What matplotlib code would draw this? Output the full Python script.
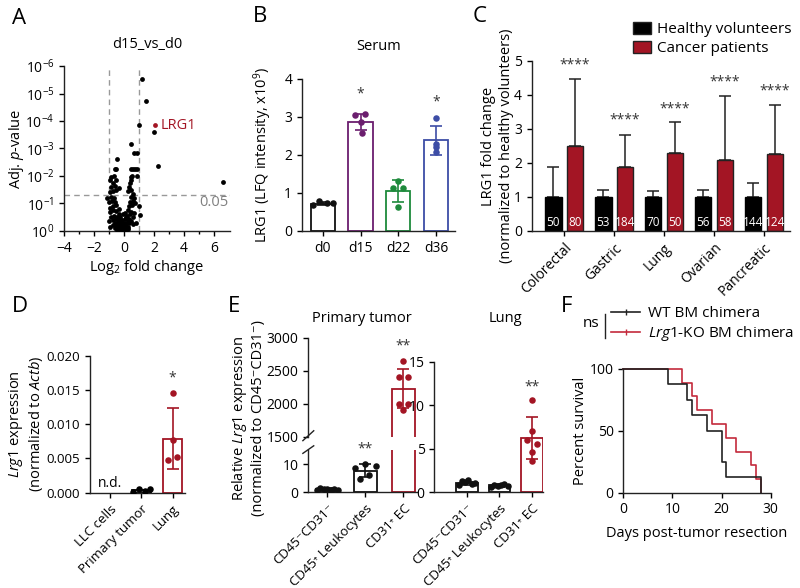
import matplotlib
matplotlib.use('Agg')
import matplotlib.pyplot as plt
import numpy as np
from matplotlib.lines import Line2D
from matplotlib.patches import Patch

plt.rcParams['font.family'] = ['Open Sans', 'DejaVu Sans']
plt.rcParams['mathtext.fontset'] = 'custom'
plt.rcParams['mathtext.rm'] = 'Open Sans'
plt.rcParams['mathtext.it'] = 'Open Sans:italic'
plt.rcParams['mathtext.bf'] = 'Open Sans:bold'
plt.rcParams['font.size'] = 10
plt.rcParams['axes.linewidth'] = 1.0
plt.rcParams['xtick.major.size'] = 3.5
plt.rcParams['ytick.major.size'] = 3.5
plt.rcParams['xtick.major.width'] = 1.0
plt.rcParams['ytick.major.width'] = 1.0
plt.rcParams['xtick.labelsize'] = 10
plt.rcParams['ytick.labelsize'] = 10
plt.rcParams['axes.edgecolor'] = '#222222'

# ---------------- DATA ----------------
# Panel A: volcano (log2 fold change, -log10 adj p)
volcano_x = [1.2, 1.45, 1.0, 2.0, 2.27, 6.6, 1.05, -1.15, 1.03,
             -0.45, -0.35, -0.25, -0.15, -0.05, 0.05, 0.15, 0.25, -0.3, -0.2, -0.1, 0.0, 0.1, 0.2, 0.3,
             -0.4, -0.5, -0.3, -0.15, 0.05, 0.15, 0.35, -0.6, -0.4, -0.25, -0.05, 0.25, 0.45,
             -0.7, -0.55, -0.35, -0.15, 0.1, 0.35,
             -0.85, -0.65, -0.45, -0.3, 0.2, 0.4, 0.6, -0.9, -0.7, -0.5, -0.35, 0.3, 0.5, 0.7,
             -0.95, -0.75, -0.55, 0.35, 0.55, -1.0, -0.8, -0.6, 0.4, 0.6, 0.75,
             -0.85, -0.65, 0.45, 0.65, -1.0, -0.95, 0.8, 0.6, -0.75, -0.6,
             -0.9, -0.7, -0.5, 0.3, 0.5, -0.85, -0.6, 0.35, 0.4, -0.75, -0.55, 0.45, 0.5,
             -0.85, -0.65, 0.9, -0.6, -0.5, 0.45, 0.6, 0.75, 0.9, -0.45, 0.65, 0.85, 0.5,
             0.55, -0.35, 0.6, -0.95, -0.2, 0.0, -0.1, 0.1, -0.25, 0.15, -0.05, 0.05]
volcano_y = [5.53, 4.73, 3.85, 3.6, 2.36, 1.78, 0.58, 1.19, 0.92,
             0.05, 0.02, 0.01, 0.0, 0.01, 0.02, 0.04, 0.06, 0.1, 0.08, 0.06, 0.07, 0.1, 0.12, 0.15,
             0.15, 0.2, 0.22, 0.18, 0.2, 0.25, 0.28, 0.3, 0.32, 0.3, 0.3, 0.35, 0.38,
             0.4, 0.42, 0.4, 0.4, 0.42, 0.45,
             0.5, 0.55, 0.52, 0.6, 0.55, 0.6, 0.5, 0.7, 0.75, 0.72, 0.8, 0.75, 0.7, 0.65,
             0.85, 0.9, 0.95, 0.9, 0.95, 1.05, 1.1, 1.05, 1.05, 1.1, 1.0,
             1.25, 1.2, 1.25, 1.2, 0.35, 0.15, 0.3, 0.25, 0.2, 0.1,
             1.4, 1.45, 1.5, 1.45, 1.5, 1.6, 1.65, 1.6, 1.75, 1.75, 1.85, 1.85, 1.95,
             1.95, 2.0, 2.0, 2.25, 2.25, 2.25, 2.25, 2.25, 2.25, 2.6, 2.85, 2.85, 3.15,
             2.0, 1.55, 1.35, 1.85, 0.25, 0.15, 0.3, 0.3, 0.5, 0.5, 0.6, 0.65]
lrg1_point = (2.07, 3.85)
p_cut = 1.3  # -log10(0.05)

# Panel B: serum LRG1
b_days = ['d0', 'd15', 'd22', 'd36']
b_mean = [0.72, 2.88, 1.04, 2.39]
b_sd = [0.04, 0.21, 0.29, 0.38]
b_points = [[0.68, 0.78, 0.73, 0.74],
            [3.05, 3.07, 2.86, 2.59],
            [1.32, 1.14, 1.12, 0.64],
            [2.97, 2.30, 2.20, 2.08]]
b_jitter = [[-0.26, -0.09, 0.10, 0.28],
            [-0.16, 0.12, 0.0, 0.03],
            [0.0, -0.15, 0.12, 0.0],
            [0.0, 0.0, 0.0, 0.0]]
b_sig = ['', '*', '', '*']
b_sig_y = [0, 3.6, 0, 3.4]

# Panel C: human cohorts
c_cancers = ['Colorectal', 'Gastric', 'Lung', 'Ovarian', 'Pancreatic']
c_healthy = [1.0, 1.0, 1.0, 1.0, 1.0]
c_healthy_err = [0.87, 0.2, 0.18, 0.22, 0.4]
c_cancer = [2.5, 1.87, 2.3, 2.1, 2.25]
c_cancer_err = [1.97, 0.96, 0.9, 1.87, 1.45]
c_n_healthy = ['50', '53', '70', '56', '144']
c_n_cancer = ['80', '184', '50', '58', '124']
c_sig_y = [4.88, 3.26, 3.58, 4.39, 4.13]

# Panel D: Lrg1 expression
d_groups = ['LLC cells', 'Primary tumor', 'Lung']
d_mean = [np.nan, 0.0004, 0.0079]
d_sd = [np.nan, 0.0, 0.0045]
d_pt_points = [0.00015, 0.0006, 0.00025, 0.00054]
d_pt_jitter = [-0.27, -0.08, 0.13, 0.27]
d_lung_points = [0.0145, 0.0077, 0.00526, 0.00477]
d_lung_jitter = [0.0, 0.0, 0.14, -0.14]

# Panel E
e_groups = ['CD45\u207bCD31\u207b', 'CD45\u207a Leukocytes', 'CD31\u207a EC']
e_pt_mean = [1.0, 7.6, 2230]
e_pt_sd = [0.3, 2.3, 300]
e_pt_points = [[0.6, 1.4, 1.2, 0.9, 0.7, 1.0, 0.8],
               [8.7, 10.0, 9.4, 6.0, 4.8],
               [2640, 2400, 2410, 2000, 2000, 1900]]
e_pt_jitter = [[-0.27, -0.18, -0.09, 0.0, 0.09, 0.18, 0.27],
               [-0.28, 0.0, 0.27, 0.1, -0.13],
               [0.0, -0.12, 0.13, -0.12, 0.13, 0.0]]
e_lung_mean = [1.0, 0.75, 6.2]
e_lung_sd = [0.2, 0.12, 2.45]
e_lung_points = [[0.75, 1.3, 1.1, 1.35, 0.95, 1.0],
                 [0.6, 0.75, 0.7, 0.8, 0.9, 0.65],
                 [10.6, 7.0, 6.0, 5.5, 4.6, 3.6]]
e_lung_jitter = [[-0.25, -0.15, -0.05, 0.05, 0.15, 0.25],
                 [-0.25, -0.15, -0.05, 0.05, 0.15, 0.25],
                 [0.0, 0.0, -0.15, 0.15, 0.0, 0.0]]

# Panel F: survival
wt_t = [0, 9, 13, 14, 17, 20, 21, 28]
wt_s = [100, 87.5, 75, 62.5, 50, 25, 12.5, 0]
ko_t = [0, 12, 14, 15, 18, 21, 23, 26, 27, 28]
ko_s = [100, 88.9, 77.8, 66.7, 55.6, 44.4, 33.3, 22.2, 11.1, 0]

# ---------------- STYLE ----------------
RED = '#A31524'
RED2 = '#C42A3C'
PURPLE = '#6B1E6E'
GREEN = '#1E8A3C'
BLUE = '#3D4DA6'
b_colors = ['#111111', PURPLE, GREEN, BLUE]
STAR = '#333333'

W, H = 800, 588
fig = plt.figure(figsize=(8, 5.88), dpi=100)


def ax_px(l, t, r, b):
    return fig.add_axes([l / W, 1 - b / H, (r - l) / W, (b - t) / H])


def clean(ax):
    ax.spines['top'].set_visible(False)
    ax.spines['right'].set_visible(False)


def panel_label(x, y, s):
    fig.text(x / W, 1 - y / H, s, fontsize=16, ha='left', va='center')


# ---------------- Panel A ----------------
axA = ax_px(64, 66, 230, 231)
clean(axA)
axA.scatter(volcano_x, volcano_y, s=12, color='black', linewidths=0, zorder=3)
axA.scatter([lrg1_point[0]], [lrg1_point[1]], s=12, color=RED, linewidths=0, zorder=4)
axA.axvline(-1, color='#999999', ls=(0, (4, 3)), lw=1)
axA.axvline(1, color='#999999', ls=(0, (4, 3)), lw=1)
axA.axhline(p_cut, color='#999999', ls=(0, (4, 3)), lw=1)
axA.text(lrg1_point[0] + 0.35, lrg1_point[1], 'LRG1', color=RED, fontsize=10.5, va='center')
axA.text(6.95, 1.05, '0.05', color='#808080', fontsize=10.5, ha='right', va='center')
axA.set_xlim(-4, 7.07)
axA.set_ylim(0, 6)
axA.set_xticks([-4, -2, 0, 2, 4, 6])
axA.set_xticks(np.arange(-4, 7, 1), minor=True)
axA.tick_params(axis='x', which='minor', length=2.5, width=1)
axA.set_yticks(range(0, 7))
axA.set_yticklabels(['10$^{0}$'] + ['10$^{-%d}$' % i for i in range(1, 7)])
axA.set_xlabel('Log$_{2}$ fold change', fontsize=10.5, labelpad=2)
axA.set_ylabel('Adj. $\\mathit{p}$-value', fontsize=10.5)
axA.yaxis.set_label_coords(-0.23, 0.5)
axA.set_title('d15_vs_d0', fontsize=10.5, pad=13)
panel_label(12, 18, 'A')

# ---------------- Panel B ----------------
axB = ax_px(302, 79, 455, 231)
clean(axB)
xb = np.arange(len(b_days))
for i in range(len(b_days)):
    axB.bar(xb[i], b_mean[i], width=0.64, facecolor='white', edgecolor=b_colors[i], linewidth=1.3, zorder=2)
    axB.errorbar(xb[i], b_mean[i], yerr=b_sd[i], color=b_colors[i], capsize=4, elinewidth=1.2,
                 capthick=1.2, zorder=3)
    axB.scatter(xb[i] + np.array(b_jitter[i]), b_points[i], s=22, color=b_colors[i], zorder=4, linewidths=0)
    if b_sig[i]:
        axB.text(xb[i], b_sig_y[i], b_sig[i], ha='center', va='center', fontsize=10, color=STAR)
axB.set_xlim(-0.55, 3.5)
axB.set_ylim(0, 4)
axB.set_yticks([0, 1, 2, 3, 4])
axB.set_xticks(xb)
axB.set_xticklabels(b_days)
axB.set_ylabel('LRG1 (LFQ intensity, x10$^{9}$)', fontsize=10.5)
axB.yaxis.set_label_coords(-0.18, 0.5)
axB.set_title('Serum', fontsize=10.5, pad=21)
panel_label(253, 17, 'B')

# ---------------- Panel C ----------------
axC = ax_px(531.7, 61, 790, 231)
clean(axC)
xc = np.arange(len(c_cancers))
off = 0.217
bw = 0.33
axC.bar(xc - off, c_healthy, width=bw, color='black', edgecolor='black', linewidth=1, zorder=2)
axC.bar(xc + off, c_cancer, width=bw, color=RED, edgecolor='#222222', linewidth=1, zorder=2)
axC.errorbar(xc - off, c_healthy, yerr=[np.zeros(5), c_healthy_err], fmt='none', ecolor='#222222',
             capsize=4, elinewidth=1.1, capthick=1.1, zorder=1)
axC.errorbar(xc + off, c_cancer, yerr=[np.zeros(5), c_cancer_err], fmt='none', ecolor='#222222',
             capsize=4, elinewidth=1.1, capthick=1.1, zorder=1)
for i in range(len(c_cancers)):
    axC.text(xc[i] - off, 0.25, c_n_healthy[i], color='white', fontsize=8.5, ha='center', va='center', zorder=5)
    axC.text(xc[i] + off, 0.25, c_n_cancer[i], color='white', fontsize=8.5, ha='center', va='center', zorder=5)
    axC.text(xc[i] + off, c_sig_y[i], '****', color=STAR, fontsize=10, ha='center', va='center')
axC.set_xlim(-0.65, 4.52)
axC.set_ylim(0, 5)
axC.set_yticks(range(6))
axC.set_xticks(xc)
axC.set_xticklabels(c_cancers, rotation=45, ha='right', rotation_mode='anchor')
axC.set_ylabel('LRG1 fold change\n(normalized to healthy volunteers)', fontsize=10.5, linespacing=1.2)
axC.yaxis.set_label_coords(-0.07, 0.5)
legC = axC.legend(handles=[Patch(facecolor='black', edgecolor='#222222', label='Healthy volunteers'),
                           Patch(facecolor=RED, edgecolor='#222222', label='Cancer patients')],
                  loc='upper left', bbox_to_anchor=(633 / W, 1 - 22 / H), bbox_transform=fig.transFigure,
                  frameon=False, fontsize=11, handlelength=1.2, handleheight=0.8, handletextpad=0.4,
                  labelspacing=0.25, borderaxespad=0, borderpad=0)
panel_label(473, 17, 'C')

# ---------------- Panel D ----------------
axD = ax_px(90, 355.7, 185, 492.7)
clean(axD)
xd = np.arange(len(d_groups))
axD.bar(xd[1], d_mean[1], width=0.63, facecolor='white', edgecolor='black', linewidth=1.3, zorder=2)
axD.bar(xd[2], d_mean[2], width=0.63, facecolor='white', edgecolor=RED, linewidth=1.3, zorder=2)
axD.errorbar(xd[2], d_mean[2], yerr=d_sd[2], color=RED, capsize=4, elinewidth=1.2, capthick=1.2, zorder=3)
axD.scatter(xd[1] + np.array(d_pt_jitter), d_pt_points, s=22, color='black', zorder=4, linewidths=0)
axD.scatter(xd[2] + np.array(d_lung_jitter), d_lung_points, s=22, color=RED, zorder=4, linewidths=0)
axD.text(xd[0], 0.00137, 'n.d.', ha='center', va='center', fontsize=10)
axD.text(xd[2], 0.0168, '*', ha='center', va='center', fontsize=10, color=STAR)
axD.set_xlim(-0.65, 2.4)
axD.set_ylim(0, 0.02)
axD.set_yticks([0, 0.005, 0.010, 0.015, 0.020])
axD.set_yticklabels(['0.000', '0.005', '0.010', '0.015', '0.020'], fontsize=9.5)
axD.set_xticks(xd)
axD.set_xticklabels(d_groups, rotation=45, ha='right', rotation_mode='anchor', fontsize=9.5)
axD.set_ylabel('$\\mathit{Lrg1}$ expression\n(normalized to $\\mathit{Actb}$)', fontsize=10.5, linespacing=1.15)
axD.yaxis.set_label_coords(-0.47, 0.5)
panel_label(12, 307, 'D')

# ---------------- Panel E ----------------
xe = np.arange(3)
e_cols = ['#111111', '#111111', RED]
axEu = ax_px(308.3, 337.7, 416.7, 436.7)
axEl = ax_px(308.3, 450, 416.7, 492)
for ax in (axEu, axEl):
    clean(ax)
    for i in range(3):
        ax.bar(xe[i], e_pt_mean[i], width=0.62, facecolor='white', edgecolor=e_cols[i], linewidth=1.3, zorder=2)
        ax.errorbar(xe[i], e_pt_mean[i], yerr=e_pt_sd[i], color=e_cols[i], capsize=4, elinewidth=1.2,
                    capthick=1.2, zorder=3)
        ax.scatter(xe[i] + np.array(e_pt_jitter[i]), e_pt_points[i], s=22, color=e_cols[i], zorder=4,
                   linewidths=0)
    ax.set_xlim(-0.5, 2.35)
axEu.spines['bottom'].set_visible(False)
axEu.set_ylim(1500, 3000)
axEu.set_yticks([1500, 2000, 2500, 3000])
axEu.set_xticks([])
axEu.text(2, 2870, '**', ha='center', va='center', fontsize=10, color=STAR)
axEl.set_ylim(0, 15)
axEl.set_yticks([0, 10])
axEl.set_xticks(xe)
axEl.set_xticklabels(e_groups, rotation=45, ha='right', rotation_mode='anchor', fontsize=9.5)
axEl.text(1, 15.2, '**', ha='center', va='center', fontsize=10, color=STAR)
# axis-break marks
kw = dict(color='#222222', lw=1.0, clip_on=False)
axEu.plot([-0.05, 0.05], [-0.04, 0.06], transform=axEu.transAxes, **kw)
axEl.plot([-0.05, 0.05], [0.92, 1.1], transform=axEl.transAxes, **kw)

axEr = ax_px(434.3, 361.7, 543.3, 492)
clean(axEr)
for i in range(3):
    axEr.bar(xe[i], e_lung_mean[i], width=0.66, facecolor='white', edgecolor=e_cols[i], linewidth=1.3, zorder=2)
    axEr.errorbar(xe[i], e_lung_mean[i], yerr=e_lung_sd[i], color=e_cols[i], capsize=4, elinewidth=1.2,
                  capthick=1.2, zorder=3)
    axEr.scatter(xe[i] + np.array(e_lung_jitter[i]), e_lung_points[i], s=22, color=e_cols[i], zorder=4,
                 linewidths=0)
axEr.text(2, 12.1, '**', ha='center', va='center', fontsize=10, color=STAR)
axEr.set_xlim(-1.0, 2.35)
axEr.set_ylim(0, 15)
axEr.set_yticks([0, 5, 10, 15])
axEr.set_xticks(xe)
axEr.set_xticklabels(e_groups, rotation=45, ha='right', rotation_mode='anchor', fontsize=9.5)
fig.text(362 / W, 1 - 318 / H, 'Primary tumor', ha='center', va='center', fontsize=10.5)
fig.text(505 / W, 1 - 318 / H, 'Lung', ha='center', va='center', fontsize=10.5)
fig.text(248 / W, 1 - 418 / H, 'Relative $\\mathit{Lrg1}$ expression\n(normalized to CD45\u207bCD31\u207b)',
         rotation=90, ha='center', va='center', fontsize=10.5, linespacing=1.15)
panel_label(228, 307, 'E')

# ---------------- Panel F ----------------
axF = ax_px(623.3, 369, 770.7, 492.7)
clean(axF)
axF.step(wt_t, wt_s, where='post', color='#222222', lw=1.2, clip_on=False, zorder=3)
axF.step(ko_t, ko_s, where='post', color=RED2, lw=1.2, clip_on=False, zorder=2)
axF.set_xlim(0, 30)
axF.set_ylim(0, 100)
axF.set_xticks([0, 10, 20, 30])
axF.set_yticks([0, 50, 100])
axF.set_xlabel('Days post-tumor resection', fontsize=10.5, labelpad=6)
axF.set_ylabel('Percent survival', fontsize=10.5)
axF.yaxis.set_label_coords(-0.24, 0.5)
axF.legend(handles=[Line2D([], [], color='#222222', lw=1.2, marker='|', markersize=4, label='WT BM chimera'),
                    Line2D([], [], color=RED2, lw=1.2, marker='|', markersize=4,
                           label='$\\mathit{Lrg1}$-KO BM chimera')],
           loc='upper left', bbox_to_anchor=(611 / W, 1 - 306 / H), bbox_transform=fig.transFigure,
           frameon=False, fontsize=11, handlelength=1.9, handletextpad=0.5, labelspacing=0.2,
           borderaxespad=0, borderpad=0)
fig.text(591 / W, 1 - 324 / H, 'ns', ha='center', va='center', fontsize=11)
fig.add_artist(Line2D([605 / W, 605 / W], [1 - 314 / H, 1 - 338 / H], color='#222222', lw=1.0,
                      transform=fig.transFigure))
panel_label(561, 307, 'F')

fig.savefig('out.png', dpi=100)
